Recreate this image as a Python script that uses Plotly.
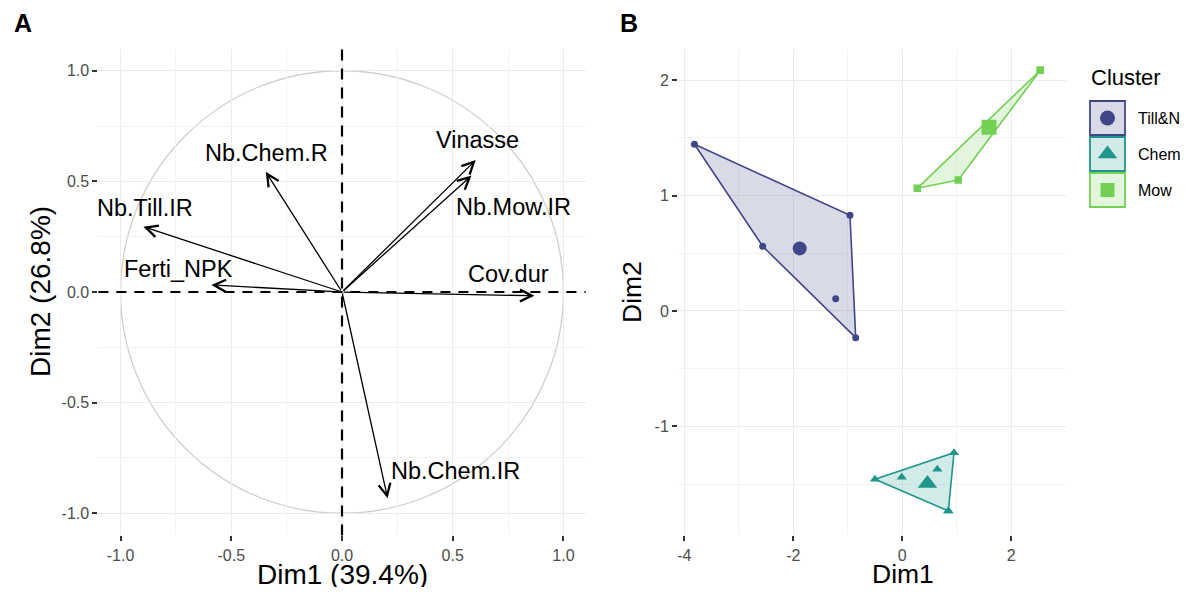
import numpy as np
import plotly.graph_objects as go

W, H = 1190, 595
OFF = 8  # page body margin
FW, FH = W - 2 * OFF, H - 2 * OFF
FONT = "Arial, Liberation Sans, sans-serif"

# ---- panel A: correlation circle (variable coordinates) ----
var_names = ["Vinasse", "Nb.Mow.IR", "Nb.Chem.R", "Nb.Till.IR", "Ferti_NPK", "Cov.dur", "Nb.Chem.IR"]
var_dim1 = [0.604, 0.585, -0.344, -0.897, -0.590, 0.869, 0.206]
var_dim2 = [0.596, 0.526, 0.543, 0.295, 0.032, -0.017, -0.932]
# repelled label positions
lab_dim1 = [0.61, 0.774, -0.341, -0.891, -0.737, 0.752, 0.514]
lab_dim2 = [0.686, 0.382, 0.626, 0.378, 0.102, 0.080, -0.808]

# ---- panel B: individuals by cluster ----
clusters = ["Till&N", "Chem", "Mow"]
colors = ["#3F4788", "#1F968B", "#73D055"]
fills = ["rgba(63,71,136,0.2)", "rgba(31,150,139,0.2)", "rgba(115,208,85,0.2)"]
symbols = ["circle", "triangle-up", "square"]
pt_size = [7, 9, 7.5]
ctr_size = [14, 17, 15]

till_dim1 = [-3.815, -0.959, -2.562, -1.221, -0.854]
till_dim2 = [1.445, 0.829, 0.561, 0.107, -0.231]
chem_dim1 = [-0.500, 0.951, 0.847, 0.847, -0.009, 0.645]
chem_dim2 = [-1.459, -1.228, -1.733, -1.733, -1.441, -1.372]
mow_dim1 = [2.536, 2.536, 0.277, 1.030]
mow_dim2 = [2.086, 2.086, 1.063, 1.135]
ind_dim1 = [till_dim1, chem_dim1, mow_dim1]
ind_dim2 = [till_dim2, chem_dim2, mow_dim2]


def hull(xs, ys):
    pts = sorted(set(zip(xs, ys)))
    def cross(o, a, b):
        return (a[0] - o[0]) * (b[1] - o[1]) - (a[1] - o[1]) * (b[0] - o[0])
    lower, upper = [], []
    for p in pts:
        while len(lower) >= 2 and cross(lower[-2], lower[-1], p) <= 0:
            lower.pop()
        lower.append(p)
    for p in reversed(pts):
        while len(upper) >= 2 and cross(upper[-2], upper[-1], p) <= 0:
            upper.pop()
        upper.append(p)
    h = lower[:-1] + upper[:-1]
    h.append(h[0])
    return [p[0] for p in h], [p[1] for p in h]


def px_x(v):
    return (v - OFF) / FW


def px_y(v):
    return 1 - (v - OFF) / FH


fig = go.Figure()

annotations = []
for name, x, y, lx, ly in zip(var_names, var_dim1, var_dim2, lab_dim1, lab_dim2):
    annotations.append(dict(x=x, y=y, ax=0, ay=0, xref="x", yref="y", axref="x", ayref="y",
                            text="", showarrow=True, arrowhead=5, arrowsize=1.8,
                            arrowwidth=1.3, arrowcolor="black"))
    annotations.append(dict(x=lx, y=ly, xref="x", yref="y", text=name, showarrow=False,
                            xanchor="center", yanchor="middle",
                            font=dict(size=23.5, color="black", family=FONT)))

# panel B hulls then points
for i, c in enumerate(clusters):
    hx, hy = hull(ind_dim1[i], ind_dim2[i])
    fig.add_trace(go.Scatter(x=hx, y=hy, mode="lines", fill="toself", fillcolor=fills[i],
                             line=dict(color=colors[i], width=1.6), xaxis="x2", yaxis="y2",
                             hoverinfo="skip", showlegend=False))
for i, c in enumerate(clusters):
    fig.add_trace(go.Scatter(x=ind_dim1[i], y=ind_dim2[i], mode="markers", name=c,
                             marker=dict(symbol=symbols[i], size=pt_size[i], color=colors[i]),
                             xaxis="x2", yaxis="y2", showlegend=False))
    fig.add_trace(go.Scatter(x=[np.mean(ind_dim1[i])], y=[np.mean(ind_dim2[i])], mode="markers",
                             marker=dict(symbol=symbols[i], size=ctr_size[i], color=colors[i]),
                             xaxis="x2", yaxis="y2", showlegend=False))

# custom legend on a full-page axis in pixel units
shapes = []
leg_y = [118, 154, 190]
leg_msize = [15, 17, 14]
for i, c in enumerate(clusters):
    shapes.append(dict(type="rect", xref="x3", yref="y3", x0=1090, x1=1125,
                       y0=leg_y[i] - 17, y1=leg_y[i] + 17, fillcolor=fills[i],
                       line=dict(color=colors[i], width=1.8)))
    fig.add_trace(go.Scatter(x=[1107.5], y=[leg_y[i]], mode="markers",
                             marker=dict(symbol=symbols[i], size=leg_msize[i], color=colors[i]),
                             xaxis="x3", yaxis="y3", showlegend=False, hoverinfo="skip"))
    annotations.append(dict(x=1136, y=leg_y[i], xref="x3", yref="y3", text=c, showarrow=False,
                            xanchor="left", yanchor="middle",
                            font=dict(size=16, color="black", family=FONT)))
annotations.append(dict(x=1089, y=77, xref="x3", yref="y3", text="Cluster", showarrow=False,
                        xanchor="left", yanchor="middle", font=dict(size=22, color="black", family=FONT)))

# panel A reference circle and dashed axes
shapes.append(dict(type="circle", xref="x", yref="y", x0=-1, x1=1, y0=-1, y1=1,
                   line=dict(color="#CFCFCF", width=1.3), layer="below"))
shapes.append(dict(type="line", xref="x", yref="y domain", x0=0, x1=0, y0=0, y1=1,
                   line=dict(color="black", width=2.2, dash="11px,8px")))
shapes.append(dict(type="line", xref="x domain", yref="y", x0=0, x1=1, y0=0, y1=0,
                   line=dict(color="black", width=2.2, dash="10px,8px")))

# titles and axis titles
for txt, x, y, size, ang in [("Dim1 (39.4%)", 342, 574, 28, 0), ("Dim2 (26.8%)", 40, 292, 28, -90),
                             ("Dim1", 903, 574, 26.5, 0), ("Dim2", 632, 292, 26.5, -90)]:
    annotations.append(dict(x=px_x(x), y=px_y(y), xref="paper", yref="paper", text=txt,
                            showarrow=False, textangle=ang, xanchor="center", yanchor="middle",
                            font=dict(size=size, color="black", family=FONT)))
for txt, x in [("A", 23), ("B", 629)]:
    annotations.append(dict(x=px_x(x), y=px_y(23), xref="paper", yref="paper", text="<b>" + txt + "</b>",
                            showarrow=False, xanchor="center", yanchor="middle",
                            font=dict(size=25, color="black", family=FONT)))

axis_common = dict(showline=False, zeroline=False, ticks="outside", ticklen=5, tickwidth=1.6,
                   tickcolor="#333333", gridcolor="#EBEBEB", gridwidth=1.2,
                   tickfont=dict(size=16, color="#4D4D4D", family=FONT))
minor = dict(showgrid=True, gridcolor="#F3F3F3", gridwidth=0.8)

a_ticks = [-1, -0.5, 0, 0.5, 1]
a_text = ["-1.0", "-0.5", "0.0", "0.5", "1.0"]
bx_ticks = [-4, -2, 0, 2]
by_ticks = [-1, 0, 1, 2]

fig.update_layout(
    width=FW, height=FH, margin=dict(l=0, r=0, t=0, b=0),
    paper_bgcolor="white", plot_bgcolor="rgba(0,0,0,0)", showlegend=False,
    font=dict(family=FONT),
    xaxis=dict(domain=[px_x(98.4), px_x(585.6)], range=[-1.1, 1.1], tickvals=a_ticks, ticktext=a_text,
               minor=dict(dtick=0.25, **minor), anchor="y", **axis_common),
    yaxis=dict(domain=[px_y(535.4), px_y(48.6)], range=[-1.1, 1.1], tickvals=a_ticks, ticktext=a_text,
               minor=dict(dtick=0.25, **minor), anchor="x", **axis_common),
    xaxis2=dict(domain=[px_x(678), px_x(1066)], range=[-4.117, 3.008], tickvals=bx_ticks,
                ticktext=[str(v) for v in bx_ticks], minor=dict(dtick=1, **minor), anchor="y2", **axis_common),
    yaxis2=dict(domain=[px_y(535.4), px_y(48.6)], range=[-1.945, 2.274], tickvals=by_ticks,
                ticktext=[str(v) for v in by_ticks], minor=dict(dtick=0.5, **minor), anchor="x2", **axis_common),
    xaxis3=dict(domain=[0, 1], range=[OFF, W - OFF], visible=False, anchor="y3", fixedrange=True),
    yaxis3=dict(domain=[0, 1], range=[H - OFF, OFF], visible=False, anchor="x3", fixedrange=True),
    shapes=shapes, annotations=annotations,
)

fig.write_html("out.html")
